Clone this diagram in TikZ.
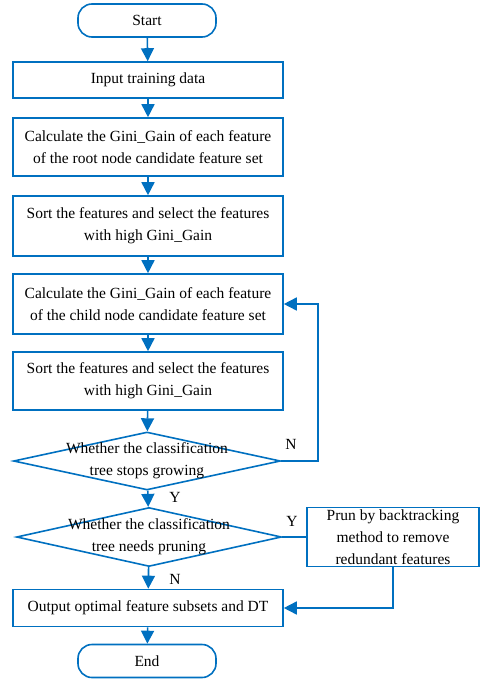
\documentclass[tikz,border=0pt]{standalone}
\usepackage{fontspec}
\setmainfont{Liberation Serif}
\usetikzlibrary{shapes.geometric,arrows.meta}
\definecolor{flowblue}{RGB}{0,112,192}
\begin{document}
\begin{tikzpicture}[x=1pt,y=-1pt,
    every node/.style={font=\fontsize{15.5pt}{22pt}\selectfont, text=black},
    box/.style={draw=flowblue, line width=1.6pt, minimum width=270pt, align=center, inner sep=0pt},
    term/.style={draw=flowblue, line width=1.6pt, rounded corners=14pt, minimum width=138pt, minimum height=33pt, inner sep=0pt},
    decide/.style={draw=flowblue, line width=1.6pt, diamond, inner sep=0pt, minimum width=267pt, minimum height=58pt},
    link/.style={draw=flowblue, line width=1.6pt, -{Triangle[width=13pt,length=13pt]}},
    plain/.style={draw=flowblue, line width=1.6pt}]
    \useasboundingbox (0,0) rectangle (480,682);
    \node [term] (start) at (147,20.5) {Start};
    \node [box, minimum height=36pt] (input) at (148,80) {Input training data};
    \node [box, minimum height=58pt] (root) at (148,147) {Calculate the Gini\_Gain of each feature\\of the root node candidate feature set};
    \node [box, minimum height=60pt] (sorta) at (148,226) {Sort the features and select the features\\with high Gini\_Gain};
    \node [box, minimum height=60pt] (child) at (148,304) {Calculate the Gini\_Gain of each feature\\of the child node candidate feature set};
    \node [box, minimum height=58pt] (sortb) at (148,381) {Sort the features and select the features\\with high Gini\_Gain};
    \node [decide] (grow) at (147,461) {};
    \node [align=center] (growtext) at (147,461) {Whether the classification\\tree stops growing};
    \node [decide, minimum width=265pt, minimum height=59pt] (prune) at (149,537) {};
    \node [align=center] (prunetext) at (149,537) {Whether the classification\\tree needs pruning};
    \node [box, minimum width=172pt, minimum height=59pt] (prun) at (393,537) {Prun by backtracking\\method to remove\\redundant features};
    \node [box, minimum height=37pt] (output) at (148,608) {Output optimal feature subsets and DT};
    \node [term] (end) at (147,661) {End};
    \node (nloop) at (291,444) {N};
    \node (ygrow) at (175,497) {Y};
    \node (yprune) at (292,521) {Y};
    \node (nprune) at (175,579) {N};
    \coordinate (back) at (318,304);
    \draw [link] (start) -- (input);
    \draw [link] (input) -- (root);
    \draw [link] (root) -- (sorta);
    \draw [link] (sorta) -- (child);
    \draw [link] (child) -- (sortb);
    \draw [link] (sortb) -- (grow);
    \draw [link] (grow) -- (prune);
    \draw [link] (prune) -- (output);
    \draw [link] (output) -- (end);
    \draw [link] (grow.east) -| (back) -- (child.east);
    \draw [plain] (prune.east) -- (prun.west);
    \draw [link] (prun.south) |- (output.east);
  \end{tikzpicture}
\end{document}
